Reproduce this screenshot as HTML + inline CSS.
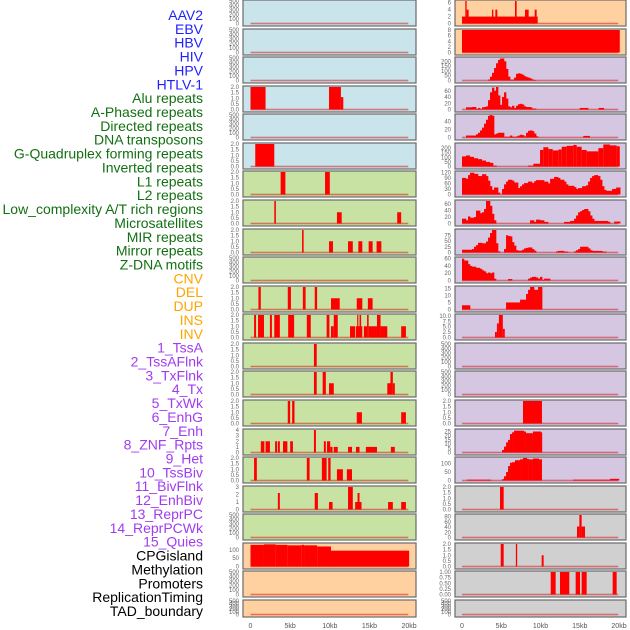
<!DOCTYPE html>
<html><head><meta charset="utf-8">
<style>
html,body{margin:0;padding:0;background:#fff;}
svg{display:block;font-family:"Liberation Sans",sans-serif;}
</style></head>
<body>
<svg id="chart" width="630" height="630" viewBox="0 0 630 630" xmlns="http://www.w3.org/2000/svg"></svg>
<script>
// ---------- data ----------
const trackLabels = ["AAV2","EBV","HBV","HIV","HPV","HTLV-1","Alu repeats","A-Phased repeats","Directed repeats","DNA transposons","G-Quadruplex forming repeats","Inverted repeats","L1 repeats","L2 repeats","Low_complexity A/T rich regions","Microsatellites","MIR repeats","Mirror repeats","Z-DNA motifs","CNV","DEL","DUP","INS","INV","1_TssA","2_TssAFlnk","3_TxFlnk","4_Tx","5_TxWk","6_EnhG","7_Enh","8_ZNF_Rpts","9_Het","10_TssBiv","11_BivFlnk","12_EnhBiv","13_ReprPC","14_ReprPCWk","15_Quies","CPGisland","Methylation","Promoters","ReplicationTiming","TAD_boundary"];
const groupSizes = [6,13,5,15,5];
const groupColors = ["#1f1fff","#127012","#ffa500","#a03cf0","#000000"];
const xTickValues = [0,5,10,15,20];
const xTickLabels = ["0","5kb","10kb","15kb","20kb"];

const T2 = ["0.0","0.5","1.0","1.5","2.0"];
const T500 = ["0","100","200","300","400","500"];

// left column segments [startKb, endKb, value]
const L3 = [[0,1.9,2],[9.9,11.4,2],[11.4,11.7,1.1]];
const L5 = [[0.6,3.0,2]];
const L6 = [[3.8,4.4,2],[9.4,10.0,2]];
const L7 = [[3.0,3.2,2],[10.9,11.5,1],[18.5,19.0,1]];
const L8 = [[6.5,6.7,2],[9.9,10.4,1],[12.3,12.9,1],[13.6,14.1,1],[14.9,15.4,1],[15.9,16.5,1]];
const L10 = [[1.0,1.3,2],[4.7,5.1,2],[6.6,6.95,2],[8.1,8.4,2],[10.15,11.25,1],[13.4,14.1,1],[14.8,15.4,1]];
const L11 = [[0.45,0.7,2],[0.95,1.7,2],[2.45,2.7,2],[3.0,3.7,2],[4.75,5.5,2],[7.1,7.6,2],[9.6,9.95,2],[10.15,10.5,1],[10.5,11.0,2],[12.55,13.2,1],[13.3,14.1,1],[13.45,13.6,2],[13.75,13.95,2],[14.3,14.7,1],[14.7,14.9,2],[14.9,15.95,1],[15.95,16.4,2],[16.4,17.25,1],[19.0,19.6,1]];
const L12 = [[8.0,8.35,2]];
const L13 = [[8.0,8.35,2],[9.1,9.5,2],[9.9,10.5,1],[17.25,17.65,1],[17.65,17.95,2],[17.95,18.2,1]];
const L14 = [[4.7,5.0,2],[5.25,5.55,2],[13.4,14.05,1],[19.0,19.6,1]];
const L15 = [[1.3,1.75,2],[1.9,2.45,2],[3.1,3.35,2],[3.45,3.7,2],[4.1,4.65,2],[5.0,5.35,2],[8.0,8.25,4],[9.25,9.5,2],[9.65,10.05,2],[10.05,10.35,1],[10.5,11.0,1],[12.3,12.8,1],[13.3,13.75,1],[14.55,15.95,1],[17.7,18.2,1]];
const L16 = [[0.45,0.8,2],[7.1,7.45,2],[9.0,9.6,2],[9.8,10.1,2],[10.9,11.65,1],[12.15,12.8,1]];
const L17 = [[3.45,3.7,2.2],[8.1,8.5,2.2],[9.9,10.35,1],[12.3,12.9,3],[13.2,14.0,1],[13.5,13.75,2.2],[17.35,17.95,1],[19.0,19.6,1]];
const L19 = [[0,1.7,130],[1.7,3.2,133],[3.2,4.65,130],[4.65,6.45,127],[6.45,6.75,130],[6.75,8.4,127],[8.4,10.15,120],[10.15,20.0,95]];

// right column
const BIN = 0.255;
const R0 = [[0,9.64,2],[0.42,0.59,6.5],[0.59,0.85,4],[3.82,3.99,4],[4.25,4.5,4],[6.75,6.96,6.5],[8.03,8.49,4],[9.26,9.51,4]];
const R1 = [[0,20.1,8]];
const R2bins = [0,0,0,0,0,0,0,0,0,0,0,0,0,10,40,80,130,180,215,230,230,200,120,40,10,10,30,70,75,70,60,45,35,30,20,10,5];
const R3bins = [0,0,7,7,7,8,8,2,5,2,7,8,10,30,55,70,60,72,45,15,40,55,35,10,7,12,5,12,17,18,16,10,8,8,7,3,3];
const R3 = [[15.0,16.1,5],[17.4,18.1,5]];
const R4bins = [0,0,5,5,5,5,5,8,12,18,25,35,45,55,57,55,8,10,12,12,12,2,2,2,5,2,2,3,5,7,6,3,12,17,18,16,10,3];
const R4 = [[15.45,16.3,4]];
const R5 = [[0,0.51,110],[0.51,1.02,120],[1.02,1.53,105],[1.53,2.04,90],[2.04,2.55,80],[2.55,3.06,65],[3.06,3.57,50],[3.57,3.99,40],[3.99,4.42,10],[8.41,9.09,10],[9.09,9.94,30],[9.94,10.36,180],[10.36,11.0,210],[11.0,11.55,190],[11.55,12.27,175],[12.27,12.7,185],[12.7,13.33,215],[13.33,14.18,225],[14.18,14.61,235],[14.61,15.24,215],[15.24,15.88,180],[15.88,17.37,165],[17.37,18.0,200],[18.0,18.85,240],[18.85,19.7,230],[19.7,20.1,220]];
const R6bins = [90,90,85,105,118,118,112,112,100,100,110,110,100,75,45,25,38,38,10,0,30,55,70,80,80,75,65,65,35,45,55,62,62,70,70,62,72,78,78,78,78,70,70,60,85,85,95,95,90,80,80,70,55,47,47,47,40,30,35,35,45,45,50,70,90,100,105,105,100,80,45,25,20,20,20,30,30,38,38];
const R7bins = [15,15,10,22,18,18,20,40,40,32,35,45,70,70,55,30,10,0,0,0,0,0,0,0,0,0,0,0,0,0,0,0,0,0,10,10,5,12,12,10,10,5,5,0,0,0,0,0,0,0,0,5,5,5,8,8,15,25,35,38,42,45,45,38,25,15,8,8,8,8,8,8,8,5,0,0,6,6,6];
const R8bins = [12,12,12,12,12,15,25,32,42,42,40,40,48,65,85,98,98,40,5,0,0,15,75,72,70,45,30,10,8,8,12,18,20,22,22,15,8,0,0,0,0,0,0,0,0,0,0,5,7,7,7,4,4,0,0,0,5,10,15,25,25,25,25,18,10,7,7,7,7,7,4,4];
const R9bins = [60,55,55,45,40,38,38,35,35,32,28,25,20,22,20,22,5,0,0,0,0,0,0,4,4,0,0,0,0,0,0,0,0,5,8,10,10,8,5,10,2,5,5,5];
const R10bins = [3,3,3,3,0,0,0,0,0,0,0,0,0,0,0,0,0,0,0,0,0,0,5,5,5,5,5,5,5,7,7,7,11,14,16,16,14,14,16,16];
const R11 = [[4.2,4.45,2.5],[4.45,4.7,6.5],[4.7,5.2,10.4],[5.2,5.45,4]];
const R14 = [[7.77,10.19,2]];
const R15 = [[5.1,5.35,3],[5.35,5.61,7],[5.61,5.86,12],[5.86,6.11,15],[6.11,6.37,22],[6.37,6.62,24],[6.62,7.9,26],[7.9,8.15,25],[8.15,9.04,23],[9.04,10.06,25],[10.06,10.19,24]];
const R16 = [[0.64,3.7,5],[5.1,5.35,8],[5.35,5.61,25],[5.61,5.86,50],[5.86,6.11,85],[6.11,6.37,105],[6.37,6.75,108],[6.75,7.39,120],[7.39,7.77,125],[7.77,8.28,133],[8.28,8.53,128],[8.53,9.04,125],[9.04,9.81,130],[9.81,10.19,125],[14.14,18.85,5],[18.85,20.04,10]];
const R17 = [[4.84,5.31,2]];
const R18 = [[14.65,14.95,42],[14.95,15.24,86],[15.24,15.67,42]];
const R19 = [[4.93,5.31,2],[6.86,7.03,2],[10.15,10.4,1]];
const R20 = [[11.3,11.93,1],[12.48,13.67,1],[14.48,15.03,1],[15.24,15.88,1],[19.19,19.7,1]];

const BLUE="#c9e4eb", GREEN="#c8e2a3", ORANGE="#ffd1a1", PURPLE="#d5c6e2", GREY="#d0d0d0";
const panels = [
 {col:0,row:0,bg:BLUE,max:500,ticks:T500,segs:[]},
 {col:0,row:1,bg:BLUE,max:500,ticks:T500,segs:[]},
 {col:0,row:2,bg:BLUE,max:500,ticks:T500,segs:[]},
 {col:0,row:3,bg:BLUE,max:2,ticks:T2,segs:L3},
 {col:0,row:4,bg:BLUE,max:500,ticks:T500,segs:[]},
 {col:0,row:5,bg:BLUE,max:2,ticks:T2,segs:L5},
 {col:0,row:6,bg:GREEN,max:2,ticks:T2,segs:L6},
 {col:0,row:7,bg:GREEN,max:2,ticks:T2,segs:L7},
 {col:0,row:8,bg:GREEN,max:2,ticks:T2,segs:L8},
 {col:0,row:9,bg:GREEN,max:500,ticks:T500,segs:[]},
 {col:0,row:10,bg:GREEN,max:2,ticks:T2,segs:L10},
 {col:0,row:11,bg:GREEN,max:2,ticks:T2,segs:L11},
 {col:0,row:12,bg:GREEN,max:2,ticks:T2,segs:L12},
 {col:0,row:13,bg:GREEN,max:2,ticks:T2,segs:L13},
 {col:0,row:14,bg:GREEN,max:2,ticks:T2,segs:L14},
 {col:0,row:15,bg:GREEN,max:4,ticks:["0","1","2","3","4"],segs:L15},
 {col:0,row:16,bg:GREEN,max:2,ticks:T2,segs:L16},
 {col:0,row:17,bg:GREEN,max:3,ticks:["0","1","2","3"],segs:L17},
 {col:0,row:18,bg:GREEN,max:500,ticks:T500,segs:[]},
 {col:0,row:19,bg:ORANGE,max:135,ticks:["0","50","100"],segs:L19},
 {col:0,row:20,bg:ORANGE,max:500,ticks:T500,segs:[]},
 {col:0,row:21,bg:ORANGE,max:500,ticks:T500,segs:[]},
 {col:1,row:0,bg:ORANGE,max:6.5,ticks:["0","2","4","6"],segs:R0},
 {col:1,row:1,bg:ORANGE,max:8,ticks:["0","2","4","6","8"],segs:R1},
 {col:1,row:2,bg:PURPLE,max:235,ticks:["0","50","100","150","200"],segs:[],bins:R2bins},
 {col:1,row:3,bg:PURPLE,max:72,ticks:["0","20","40","60"],segs:R3,bins:R3bins},
 {col:1,row:4,bg:PURPLE,max:57,ticks:["0","20","40"],segs:R4,bins:R4bins},
 {col:1,row:5,bg:PURPLE,max:245,ticks:["0","50","100","150","200"],segs:R5},
 {col:1,row:6,bg:PURPLE,max:122,ticks:["0","30","60","90","120"],segs:[],bins:R6bins},
 {col:1,row:7,bg:PURPLE,max:70,ticks:["0","20","40","60"],segs:[],bins:R7bins},
 {col:1,row:8,bg:PURPLE,max:98,ticks:["0","25","50","75"],segs:[],bins:R8bins},
 {col:1,row:9,bg:PURPLE,max:62,ticks:["0","20","40","60"],segs:[],bins:R9bins},
 {col:1,row:10,bg:PURPLE,max:16,ticks:["0","5","10","15"],segs:[],bins:R10bins},
 {col:1,row:11,bg:PURPLE,max:10.4,ticks:["0.0","2.5","5.0","7.5","10.0"],segs:R11},
 {col:1,row:12,bg:PURPLE,max:500,ticks:T500,segs:[]},
 {col:1,row:13,bg:PURPLE,max:500,ticks:T500,segs:[]},
 {col:1,row:14,bg:PURPLE,max:2,ticks:T2,segs:R14},
 {col:1,row:15,bg:PURPLE,max:26.8,ticks:["0","5","10","15","20","25"],segs:R15},
 {col:1,row:16,bg:PURPLE,max:133,ticks:["0","50","100"],segs:R16},
 {col:1,row:17,bg:GREY,max:2,ticks:T2,segs:R17},
 {col:1,row:18,bg:GREY,max:86,ticks:["0","20","40","60","80"],segs:R18},
 {col:1,row:19,bg:GREY,max:2,ticks:T2,segs:R19},
 {col:1,row:20,bg:GREY,max:1,ticks:["0.00","0.25","0.50","0.75","1.00"],segs:R20},
 {col:1,row:21,bg:GREY,max:500,ticks:T500,segs:[]}
];

// ---------- drawing ----------
const NS="http://www.w3.org/2000/svg";
const svg=document.getElementById("chart");
function mk(tag,attrs,parent){const e=document.createElementNS(NS,tag);for(const k in attrs)e.setAttribute(k,attrs[k]);(parent||svg).appendChild(e);return e;}
const COLS=[{x0:243,w:173,zero:250.5,scale:7.93},{x0:455,w:171,zero:462,scale:7.85}];
function xScale(col,kb){return COLS[col].zero+kb*COLS[col].scale;}
function rowTop(r){return Math.round(r*28.57);}
function rowH(r){return r===21?17:26;}

// labels
let gi=0,cnt=0;
trackLabels.forEach((lab,i)=>{
  while(cnt>=groupSizes[gi]){gi++;cnt=0;}
  cnt++;
  const t=mk("text",{x:203,y:20+i*13.86,"text-anchor":"end","font-size":"14",fill:groupColors[gi]});
  t.textContent=lab;
  
  
});

panels.forEach(p=>{
  const top=rowTop(p.row),h=rowH(p.row),c=COLS[p.col];
  const g=mk("g",{});
  
  
  const bg=mk("rect",{x:c.x0,y:top,width:c.w,height:h,fill:p.bg,stroke:"#6a6a6a","stroke-width":1.2},g);
  
  
  const base=top+h-2.5, ytop=top+1;
  const yS=v=>base-Math.min(v,p.max)/p.max*(base-ytop);
  // baseline
  const bl=mk("rect",{x:xScale(p.col,0),y:base-0.8,width:xScale(p.col,19.9)-xScale(p.col,0),height:1.6,fill:"#d21010",opacity:0.5},g);
  
  
  // bins
  if(p.bins){p.bins.forEach((v,k)=>{ if(v<=0)return;
    const x1=xScale(p.col,k*BIN),x2=xScale(p.col,(k+1)*BIN);
    const r=mk("rect",{x:x1,y:yS(v),width:x2-x1+0.3,height:base-yS(v),fill:"#ff0000"},g);
    
    
  });}
  p.segs.forEach(s=>{
    const x1=xScale(p.col,s[0]),x2=xScale(p.col,s[1]);
    const r=mk("rect",{x:x1,y:yS(s[2]),width:Math.max(x2-x1,1.2),height:base-yS(s[2]),fill:"#ff0000"},g);
    
    
  });
  // ticks
  p.ticks.forEach(tl=>{
    const v=parseFloat(tl);
    const t=mk("text",{x:c.x0-4,y:yS(v)+2,"text-anchor":"end","font-size":"6",fill:"#666"},g);
    t.textContent=tl;
    
    
  });
});

// x axis labels
[0,1].forEach(col=>{
  xTickValues.forEach((v,i)=>{
    const t=mk("text",{x:xScale(col,v),y:628,"text-anchor":"middle","font-size":"7",fill:"#555"});
    t.textContent=xTickLabels[i];
    
    
  });
});
</script>
</body></html>
